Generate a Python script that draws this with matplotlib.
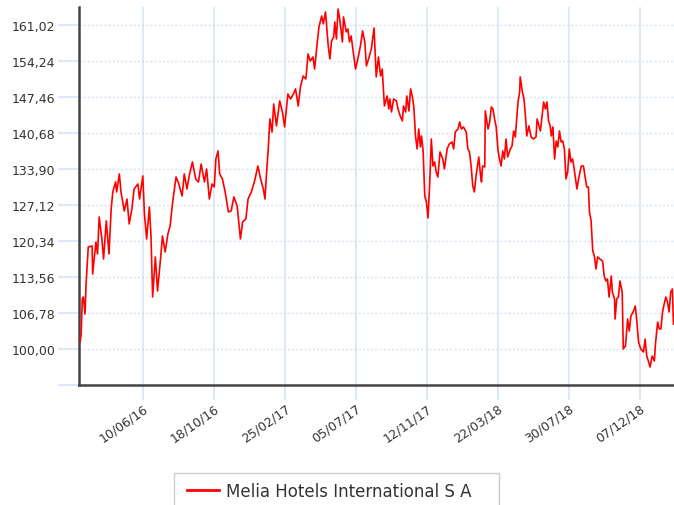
import matplotlib
matplotlib.use("Agg")
import matplotlib.pyplot as plt
import matplotlib.dates as mdates
from matplotlib.patches import Rectangle
import pandas as pd

# Melia Hotels share price (days counted from START)
START = "2016-02-15"
days = [
    0, 2, 4, 6, 9, 11, 15, 22, 23, 29,
    32, 35, 40, 43, 48, 53, 57, 60, 65, 67,
    72, 75, 81, 86, 90, 95, 99, 106, 109, 115,
    118, 122, 127, 130, 133, 138, 142, 148, 151, 156,
    161, 165, 170, 176, 181, 187, 191, 196, 200, 206,
    212, 217, 222, 228, 232, 237, 242, 246, 249, 253,
    256, 261, 266, 272, 277, 282, 288, 294, 298, 304,
    308, 314, 320, 326, 331, 336, 339, 342, 345, 348,
    352, 355, 360, 366, 371, 375, 381, 386, 391, 395,
    400, 404, 409, 414, 418, 422, 427, 430, 435, 438,
    443, 446, 450, 455, 458, 461, 465, 467, 470, 473,
    476, 481, 483, 488, 491, 494, 497, 502, 505, 510,
    514, 518, 522, 525, 530, 534, 539, 543, 547, 551,
    554, 558, 563, 566, 568, 571, 575, 580, 583, 587,
    591, 593, 597, 599, 603, 606, 609, 612, 615, 618,
    621, 624, 626, 629, 632, 635, 638, 641, 644, 647,
    650, 653, 656, 660, 665, 668, 673, 677, 682, 685,
    688, 693, 696, 699, 703, 708, 711, 714, 717, 720,
    723, 726, 731, 734, 736, 738, 742, 743, 748, 751,
    754, 757, 760, 763, 766, 769, 772, 775, 778, 781,
    784, 789, 792, 795, 798, 803, 806, 807, 811, 814,
    817, 819, 823, 827, 831, 836, 838, 844, 847, 850,
    853, 856, 859, 862, 864, 867, 870, 873, 876, 879,
    882, 885, 888, 891, 894, 897, 900, 903, 906, 911,
    914, 919, 923, 926, 929, 932, 934, 937, 940, 943,
    946, 949, 953, 958, 961, 964, 967, 970, 974, 976,
    980, 981, 984, 987, 990, 994, 996, 1000, 1004, 1007,
    1010, 1014, 1018, 1020, 1024, 1028, 1033, 1036, 1039, 1042,
    1045, 1049, 1053, 1055, 1059, 1062, 1065, 1068, 1071, 1074,
    1077, 1080, 1083, 1086, 1088,
]
price = [
    101.32, 102.82, 109.42, 109.79, 106.59, 112.24, 119.21, 119.40, 114.12, 120.15,
    117.89, 124.86, 120.72, 116.95, 124.11, 117.89, 126.37, 129.57, 131.45, 129.57,
    132.96, 129.57, 125.99, 128.24, 123.54, 126.37, 130.13, 131.07, 128.25, 132.58,
    125.42, 120.72, 126.74, 121.28, 109.79, 117.33, 110.92, 117.51, 121.28, 118.27,
    121.66, 123.16, 127.87, 132.39, 131.07, 128.81, 132.96, 130.13, 132.58, 135.22,
    132.02, 131.45, 134.84, 131.45, 133.90, 128.25, 131.07, 130.51, 135.78, 137.29,
    132.96, 132.02, 129.57, 125.80, 125.99, 128.63, 126.93, 120.72, 123.92, 124.48,
    128.25, 129.57, 131.64, 134.46, 132.02, 130.13, 128.25, 133.33, 137.67, 143.32,
    140.87, 146.14, 142.00, 146.71, 144.63, 141.81, 148.02, 147.08, 148.02, 148.97,
    145.76, 149.34, 151.41, 150.85, 155.56, 154.24, 154.99, 152.73, 157.82, 160.64,
    162.71, 161.21, 163.47, 157.06, 154.62, 158.00, 158.76, 161.58, 158.38, 164.03,
    162.15, 157.82, 162.53, 159.70, 160.27, 157.82, 158.95, 154.99, 152.73, 154.99,
    157.06, 159.89, 157.82, 153.30, 154.99, 156.50, 160.45, 151.23, 154.99, 151.41,
    152.73, 145.76, 147.65, 145.20, 147.08, 144.63, 147.08, 146.71, 145.20, 143.88,
    142.94, 145.76, 144.63, 147.65, 144.82, 148.97, 147.65, 145.57, 140.11, 137.67,
    141.43, 138.04, 140.11, 137.29, 128.81, 127.68, 124.67, 131.07, 139.55, 134.46,
    135.22, 133.33, 132.39, 137.10, 135.78, 133.90, 137.67, 138.61, 138.98, 137.67,
    140.87, 141.43, 142.75, 141.43, 141.81, 140.87, 137.67, 137.10, 134.46, 130.70,
    129.57, 132.58, 136.16, 132.96, 131.45, 134.46, 134.28, 144.82, 141.43, 142.75,
    145.57, 145.20, 143.32, 141.81, 137.67, 135.78, 134.46, 137.29, 135.78, 139.55,
    136.16, 137.67, 138.23, 141.06, 139.93, 146.52, 148.40, 151.23, 148.40, 147.08,
    143.32, 140.11, 142.00, 139.93, 139.55, 139.93, 143.32, 141.06, 143.88, 146.52,
    145.20, 146.52, 142.94, 142.00, 140.11, 141.81, 135.78, 139.17, 138.04, 141.06,
    138.98, 139.17, 137.67, 132.02, 133.33, 137.67, 135.22, 135.78, 133.90, 130.13,
    132.02, 134.46, 134.46, 132.39, 130.51, 130.51, 125.80, 124.11, 118.46, 117.51,
    115.07, 117.33, 116.95, 116.57, 113.75, 112.81, 113.18, 109.79, 113.75, 110.73,
    109.42, 105.65, 109.42, 109.79, 112.81, 110.73, 100.00, 100.56, 105.65, 103.39,
    106.21, 106.97, 108.10, 106.21, 101.32, 100.00, 99.44, 101.88, 98.68, 97.74,
    96.61, 98.68, 97.74, 100.94, 105.08, 103.77, 103.77, 106.97, 108.47, 109.79,
    108.85, 106.97, 110.73, 111.30, 104.71,
]

y_ticks = [93.22, 100.00, 106.78, 113.56, 120.34, 127.12, 133.90, 140.68, 147.46, 154.24, 161.02]
x_ticks = ["2016-06-10", "2016-10-18", "2017-02-25", "2017-07-05",
           "2017-11-12", "2018-03-22", "2018-07-30", "2018-12-07"]
series_name = "Melia Hotels International S A"

start = pd.to_datetime(START)
dates = start + pd.to_timedelta(days, unit="D")

GRID = "#dce8f8"
TEXT = "#333333"
W, H = 674, 506

fig = plt.figure(figsize=(W / 100, H / 100), dpi=100)
ax = fig.add_axes([79 / W, 1 - 386 / H, 1 - 79 / W, 378 / H])

ax.plot(dates, price, color="#ff0000", lw=1.2, label=series_name, zorder=3)

ax.set_xlim(start - pd.Timedelta(days=2), start + pd.Timedelta(days=1089))
ax.set_ylim(93.22, 164.4)

ax.set_yticks(y_ticks)
ax.set_yticklabels([""] + [f"{v:.2f}".replace(".", ",") for v in y_ticks[1:]])
ax.set_xticks(pd.to_datetime(x_ticks))
ax.xaxis.set_major_formatter(mdates.DateFormatter("%d/%m/%y"))

ax.tick_params(axis="y", length=15, width=1.5, color=GRID, labelsize=9,
               labelcolor=TEXT, pad=2)
ax.tick_params(axis="x", length=11, width=1.5, color=GRID, labelsize=9,
               labelcolor=TEXT, pad=1)
for lbl in ax.get_xticklabels():
    lbl.set_rotation(35)
    lbl.set_ha("right")
    lbl.set_va("top")
    lbl.set_rotation_mode("anchor")

ax.grid(axis="x", color=GRID, lw=1.3, ls="-", zorder=0)
ax.grid(axis="y", color="#d3e2f5", lw=1.0, ls=(0, (1.5, 1.5)), zorder=0)

for side in ["top", "right"]:
    ax.spines[side].set_visible(False)
for side in ["left", "bottom"]:
    ax.spines[side].set_color("#444444")
    ax.spines[side].set_linewidth(1.8)

# legend: text + handle, with a box drawn separately (it runs off the bottom)
leg = fig.legend(loc="center left", bbox_to_anchor=(187 / W, 1 - 492 / H),
                 frameon=False, fontsize=12, handlelength=1.95,
                 handletextpad=0.42, borderpad=0, borderaxespad=0)
for t in leg.get_texts():
    t.set_color(TEXT)
for h in leg.get_lines():
    h.set_linewidth(2)

box = Rectangle((174 / W, -0.05), (499 - 174) / W, 0.05 + 1 - 474 / H,
                transform=fig.transFigure, fill=False, edgecolor="#cccccc", lw=1.0)
fig.add_artist(box)

fig.savefig("out.png", dpi=100)
